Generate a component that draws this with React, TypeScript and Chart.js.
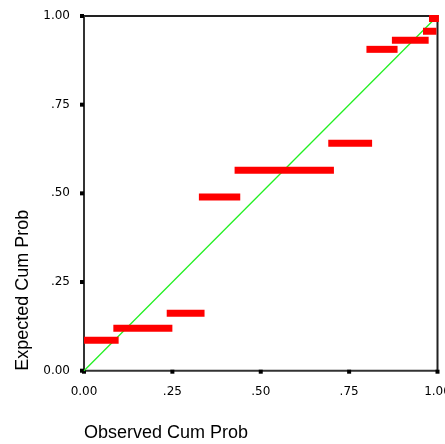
import React, { useEffect, useRef } from "react";
import { Chart, registerables } from "chart.js";

Chart.register(...registerables);

// Observed cumulative probability span (start/end) and expected cumulative probability per step
const observedStart = [0.0, 0.083, 0.234, 0.325, 0.426, 0.691, 0.799, 0.871, 0.959, 0.976];
const observedEnd = [0.098, 0.25, 0.341, 0.442, 0.707, 0.815, 0.887, 0.975, 0.997, 1.004];
const expected = [0.0857, 0.1195, 0.162, 0.49, 0.565, 0.641, 0.906, 0.9315, 0.957, 0.993];

const tickValues = [0, 0.25, 0.5, 0.75, 1.0];
const tickLabels = ["0.00", ".25", ".50", ".75", "1.00"];

const xTitle = "Observed Cum Prob";
const yTitle = "Expected Cum Prob";

const W = 445;
const H = 444;
const PAD_LEFT = 12;
const AREA_LEFT = 84;
const AREA_RIGHT = 437.5;
const AREA_TOP = 16;
const AREA_BOTTOM = 370.7;

const tickFont = { family: "'DejaVu Sans', Verdana, sans-serif", size: 12 };
const titleFont = { family: "'Liberation Sans', Arial, sans-serif", size: 18 };

const labelFor = (v: number) => {
  const i = tickValues.findIndex((t) => Math.abs(t - v) < 1e-6);
  return i >= 0 ? tickLabels[i] : "";
};

const framePlugin = {
  id: "frame",
  beforeDatasetsDraw(chart: any) {
    const { ctx, chartArea } = chart;
    const { left, right, top, bottom } = chartArea;
    ctx.save();
    ctx.lineWidth = 2;
    ctx.strokeStyle = "#222";
    ctx.beginPath();
    ctx.moveTo(left, top);
    ctx.lineTo(right, top);
    ctx.lineTo(right, bottom);
    ctx.stroke();
    ctx.strokeStyle = "#333";
    ctx.beginPath();
    ctx.moveTo(left, top);
    ctx.lineTo(left, bottom);
    ctx.lineTo(right, bottom);
    ctx.stroke();
    // square tick marks
    ctx.fillStyle = "#000";
    const xs = chart.scales.x;
    const ys = chart.scales.y;
    tickValues.forEach((v) => {
      const px = xs.getPixelForValue(v);
      ctx.fillRect(px - 2, bottom - 1, 4, 4);
      const py = ys.getPixelForValue(v);
      ctx.fillRect(left - 4, py - 2, 4, 4);
    });
    ctx.restore();
  },
};

export default function App() {
  const ref = useRef<HTMLCanvasElement | null>(null);

  useEffect(() => {
    if (!ref.current) return;
    const bars = expected.map((y, i) => ({
      type: "line" as const,
      data: [
        { x: observedStart[i], y },
        { x: observedEnd[i], y },
      ],
      borderColor: "#ff0000",
      borderWidth: 7,
      borderCapStyle: "butt" as const,
      pointRadius: 0,
      clip: false as any,
      order: 0,
    }));
    const diag = {
      type: "line" as const,
      data: [
        { x: 0, y: 0 },
        { x: 1, y: 1 },
      ],
      borderColor: "#22f022",
      borderWidth: 1.3,
      pointRadius: 0,
      clip: false as any,
      order: 1,
    };
    const chart = new Chart(ref.current, {
      type: "scatter",
      data: { datasets: [diag, ...bars] as any },
      plugins: [framePlugin],
      options: {
        animation: false,
        responsive: false,
        maintainAspectRatio: false,
        layout: {
          padding: { left: PAD_LEFT, right: W - AREA_RIGHT, top: AREA_TOP, bottom: 0 },
        },
        plugins: {
          legend: { display: false },
          tooltip: { enabled: false },
        },
        scales: {
          x: {
            type: "linear",
            min: 0,
            max: 1,
            afterBuildTicks: (s: any) => {
              s.ticks = tickValues.map((v) => ({ value: v }));
            },
            afterFit: (s: any) => {
              s.height = H - AREA_BOTTOM;
              s.paddingLeft = 0;
              s.paddingRight = 0;
            },
            grid: { display: false, drawOnChartArea: false },
            border: { display: false },
            ticks: {
              color: "#000",
              font: tickFont,
              padding: 6,
              maxRotation: 0,
              autoSkip: false,
              callback: (v: any) => labelFor(Number(v)),
            },
            title: {
              display: true,
              text: xTitle,
              align: "start",
              color: "#000",
              font: titleFont,
              padding: { top: 31, bottom: 0 },
            },
          },
          y: {
            type: "linear",
            min: 0,
            max: 1,
            afterBuildTicks: (s: any) => {
              s.ticks = tickValues.map((v) => ({ value: v }));
            },
            afterFit: (s: any) => {
              s.width = AREA_LEFT - PAD_LEFT;
              s.paddingTop = 0;
              s.paddingBottom = 0;
            },
            grid: { display: false, drawOnChartArea: false },
            border: { display: false },
            ticks: {
              color: "#000",
              font: tickFont,
              padding: 6,
              autoSkip: false,
              callback: (v: any) => labelFor(Number(v)),
            },
            title: {
              display: true,
              text: yTitle,
              align: "start",
              color: "#000",
              font: titleFont,
              padding: { top: 0, bottom: 0 },
            },
          },
        },
      } as any,
    });
    return () => chart.destroy();
  }, []);

  return (
    <div style={{ position: "fixed", left: 0, top: 0, width: W, height: H, background: "#fff" }}>
      <canvas ref={ref} width={W} height={H} style={{ width: W, height: H, display: "block" }} />
    </div>
  );
}
